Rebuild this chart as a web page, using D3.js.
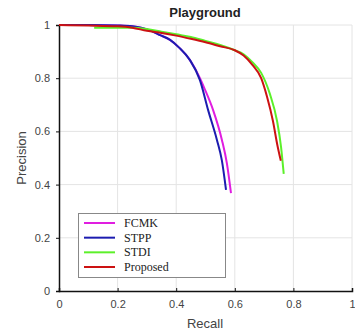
<!DOCTYPE html>
<html><head><meta charset="utf-8">
<script src="https://cdn.jsdelivr.net/npm/d3@7"></script>
<style>body{margin:0;background:#fff}svg{display:block}</style>
</head><body>
<script>
const title = "Playground";
const seriesNames = ["FCMK", "STPP", "STDI", "Proposed"];
const seriesColors = ["#e01ee0", "#1c1cb0", "#5cf02a", "#cc1212"];
const ticks = [0, 0.2, 0.4, 0.6, 0.8, 1];
const tickLabels = ["0", "0.2", "0.4", "0.6", "0.8", "1"];

const fcmkRecall    = [0, 0.1, 0.2, 0.25, 0.28, 0.31, 0.345, 0.379, 0.41, 0.447, 0.481, 0.497, 0.526, 0.556, 0.573, 0.587];
const fcmkPrecision = [1, 1, 0.998, 0.995, 0.99, 0.98, 0.962, 0.944, 0.915, 0.868, 0.8, 0.76, 0.68, 0.568, 0.48, 0.368];
const stppRecall    = [0, 0.1, 0.2, 0.25, 0.28, 0.31, 0.345, 0.379, 0.41, 0.447, 0.481, 0.509, 0.539, 0.556, 0.570];
const stppPrecision = [1, 1, 0.998, 0.995, 0.99, 0.98, 0.962, 0.944, 0.915, 0.868, 0.793, 0.68, 0.568, 0.49, 0.38];
const stdiRecall    = [0.12, 0.2, 0.25, 0.3, 0.35, 0.4, 0.45, 0.5, 0.55, 0.6, 0.63, 0.66, 0.69, 0.72, 0.744, 0.758, 0.767];
const stdiPrecision = [0.99, 0.99, 0.99, 0.985, 0.975, 0.965, 0.955, 0.94, 0.925, 0.905, 0.89, 0.86, 0.82, 0.74, 0.64, 0.54, 0.44];
const propRecall    = [0, 0.1, 0.2, 0.25, 0.3, 0.35, 0.4, 0.45, 0.5, 0.55, 0.6, 0.63, 0.66, 0.69, 0.71, 0.73, 0.745, 0.757];
const propPrecision = [1, 0.998, 0.995, 0.99, 0.978, 0.97, 0.96, 0.948, 0.935, 0.92, 0.905, 0.885, 0.85, 0.80, 0.73, 0.64, 0.55, 0.49];

const series = [
  {name: seriesNames[0], color: seriesColors[0], r: fcmkRecall, p: fcmkPrecision},
  {name: seriesNames[1], color: seriesColors[1], r: stppRecall, p: stppPrecision},
  {name: seriesNames[2], color: seriesColors[2], r: stdiRecall, p: stdiPrecision},
  {name: seriesNames[3], color: seriesColors[3], r: propRecall, p: propPrecision}
];

const W = 355, H = 335;
const svg = d3.select("body").append("svg").attr("width", W).attr("height", H);
const x = d3.scaleLinear().domain([0, 1]).range([59, 352]);
const y = d3.scaleLinear().domain([0, 1]).range([291, 25]);

// grid
const g = svg.append("g");
g.selectAll(".vg").data(ticks.slice(1)).join("line")
  .attr("x1", d => x(d)).attr("x2", d => x(d)).attr("y1", y(0)).attr("y2", y(1))
  .attr("stroke", "#e4e4e4").attr("stroke-width", 1);
g.selectAll(".hg").data(ticks.slice(1)).join("line")
  .attr("x1", x(0)).attr("x2", x(1)).attr("y1", d => y(d)).attr("y2", d => y(d))
  .attr("stroke", "#e4e4e4").attr("stroke-width", 1);

// axes
const xAxis = d3.axisBottom(x).tickValues(ticks).tickFormat((d, i) => tickLabels[i]).tickSize(-3).tickPadding(9);
const yAxis = d3.axisLeft(y).tickValues(ticks).tickFormat((d, i) => tickLabels[i]).tickSize(3).tickPadding(6);
const xa = svg.append("g").attr("transform", `translate(0,${y(0)})`).call(xAxis);
const ya = svg.append("g").attr("transform", `translate(${x(0)},0)`).call(yAxis);
[xa, ya].forEach(a => {
  a.select(".domain").attr("stroke", "#111").attr("stroke-width", 1.5);
  a.selectAll(".tick line").attr("stroke", "#111");
  a.selectAll("text").attr("font-family", "Arial, 'Liberation Sans', sans-serif").attr("font-size", 11).attr("fill", "#444");
});

// lines
const line = d3.line().x(d => x(d[0])).y(d => y(d[1])).curve(d3.curveMonotoneX);
svg.append("g").selectAll("path").data(series).join("path")
  .attr("d", s => line(s.r.map((v, i) => [v, s.p[i]])))
  .attr("fill", "none").attr("stroke", s => s.color).attr("stroke-width", 2);

// title & labels
svg.append("text").attr("x", 205).attr("y", 17).attr("text-anchor", "middle")
  .attr("font-family", "Arial, 'Liberation Sans', sans-serif").attr("font-weight", "bold").attr("font-size", 13).attr("fill", "#222").text(title);
svg.append("text").attr("x", 205).attr("y", 328).attr("text-anchor", "middle")
  .attr("font-family", "Arial, 'Liberation Sans', sans-serif").attr("font-size", 13).attr("fill", "#444").text("Recall");
svg.append("text").attr("transform", "translate(26,158) rotate(-90)").attr("text-anchor", "middle")
  .attr("font-family", "Arial, 'Liberation Sans', sans-serif").attr("font-size", 13).attr("fill", "#444").text("Precision");

// legend
const lg = svg.append("g");
lg.append("rect").attr("x", 78.5).attr("y", 213.5).attr("width", 147).attr("height", 64)
  .attr("fill", "#fff").attr("stroke", "#888").attr("stroke-width", 1);
const ly = d3.scalePoint().domain(seriesNames).range([223, 267]);
series.forEach(s => {
  lg.append("line").attr("x1", 84).attr("x2", 115).attr("y1", ly(s.name)).attr("y2", ly(s.name))
    .attr("stroke", s.color).attr("stroke-width", 2);
  lg.append("text").attr("x", 124).attr("y", ly(s.name) + 4)
    .attr("font-family", "'Liberation Serif', 'Times New Roman', serif").attr("font-size", 12).attr("fill", "#222").text(s.name);
});
</script>
</body></html>
